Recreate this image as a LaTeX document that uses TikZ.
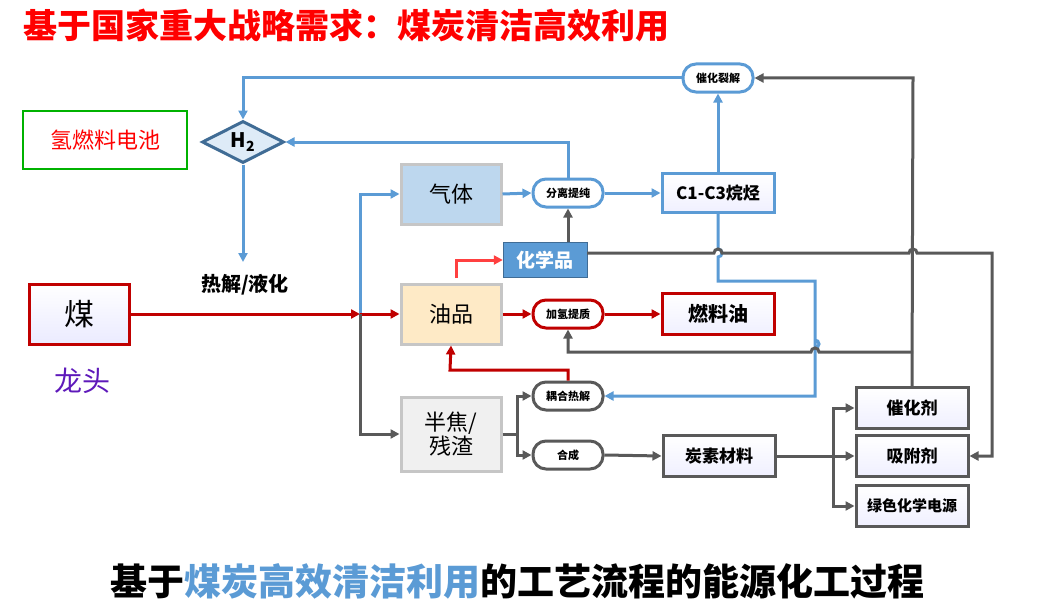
\documentclass[tikz,border=0pt]{standalone}
\usepackage{fontspec}
\setmainfont{Noto Sans CJK SC}
\usetikzlibrary{arrows.meta,positioning,shapes.geometric}
\definecolor{lblue}{HTML}{5B9BD5}
\definecolor{dgray}{HTML}{595959}
\definecolor{dred}{HTML}{C00000}
\begin{document}
\begin{tikzpicture}[x=1pt,y=-1pt,>={Triangle[length=9pt,width=9pt]},
  box/.style={draw,line width=3pt,minimum width=112pt,minimum height=41pt,inner sep=0pt,
    top color=white,bottom color=blue!6,font=\fontsize{17}{17}\selectfont\bfseries},
  src/.style={draw=gray!45,line width=3pt,minimum width=100pt,minimum height=60pt,inner sep=0pt,
    font=\fontsize{22}{24}\selectfont},
  proc/.style={rounded corners=13pt,line width=3pt,fill=white,minimum width=70pt,
    minimum height=28pt,inner sep=0pt,font=\fontsize{11}{11}\selectfont\bfseries},
  bl/.style={lblue,line width=3pt},
  gr/.style={dgray,line width=3pt},
  rd/.style={dred,line width=3pt}]
  \useasboundingbox (0,0) rectangle (1044,610);
  % titles
  \node[red,font=\fontsize{34}{34}\selectfont\bfseries,anchor=west] (title) at (20,25) {基于国家重大战略需求：煤炭清洁高效利用};
  \node[font=\fontsize{37}{37}\selectfont\bfseries] (foot) at (517,581) {基于{\color{lblue}煤炭高效清洁利用}的工艺流程的能源化工过程};
  % nodes
  \node[draw=green!70!black,line width=1.5pt,minimum width=164pt,minimum height=58pt,text=red,
    font=\fontsize{22}{22}\selectfont] (fc) at (105,140) {氢燃料电池};
  \node[diamond,draw=lblue!70!black,fill=lblue!20,line width=3pt,aspect=2,minimum width=82pt,
    minimum height=42pt,inner sep=0pt,font=\fontsize{20}{20}\selectfont\bfseries] (h2) at (243,142) {H$_\mathbf{2}$};
  \node[font=\fontsize{20}{20}\selectfont\bfseries] (pyro) at (245,285) {热解/液化};
  \node[draw=dred,line width=3pt,minimum width=100pt,minimum height=60pt,top color=white,
    bottom color=blue!8,font=\fontsize{30}{30}\selectfont] (coal) at (79,314) {煤};
  \node[text=blue!70!red!90,font=\fontsize{28}{28}\selectfont] (head) at (82,381) {龙头};
  \node[src,fill=lblue!40] (gas) at (451,194) {气体};
  \node[src,fill=yellow!25!orange!20] (oil) at (451,314) {油品};
  \node[src,fill=gray!12,minimum height=74pt,align=center] (coke) at (451,434) {半焦/\\残渣};
  \node[draw=lblue!70!black,fill=lblue,text=white,minimum width=84pt,minimum height=35pt,
    inner sep=0pt,font=\fontsize{19}{19}\selectfont\bfseries] (chem) at (545,260) {化学品};
  \node[proc,draw=lblue] (sep) at (568,193) {分离提纯};
  \node[proc,draw=dred] (hyd) at (568,314) {加氢提质};
  \node[proc,draw=dgray] (cop) at (568,396) {耦合热解};
  \node[proc,draw=dgray] (syn) at (568,455) {合成};
  \node[proc,draw=lblue] (crk) at (718,78) {催化裂解};
  \node[box,draw=lblue,minimum height=39pt] (alk) at (718,193) {C1-C3烷烃};
  \node[box,draw=dred,font=\fontsize{20}{20}\selectfont\bfseries] (fuel) at (718,314) {燃料油};
  \node[box,draw=dgray] (carb) at (719,456) {炭素材料};
  \node[box,draw=dgray] (cat) at (912,408) {催化剂};
  \node[box,draw=dgray] (ads) at (912,456) {吸附剂};
  \node[box,draw=dgray,font=\fontsize{15}{15}\selectfont\bfseries] (bat) at (912,506) {绿色化学电源};
  % blue connectors
  \draw[bl,->] (crk.west) -- (243,78) -- (h2.north);
  \draw[bl,->] (sep.north) -- (568,142) -- (h2.east);
  \draw[bl,->] (h2.south) -- (243,262);
  \draw[bl,->] (360,314) -- (360,194) -- (gas.west);
  \draw[bl,->] (gas.east) -- (sep.west);
  \draw[bl,->] (sep.east) -- (alk.west);
  \draw[bl,->] (alk.north) -- (crk.south);
  \draw[bl,->] (alk.south) -- (718,249) arc[start angle=90,end angle=-90,radius=4pt] -- (718,281)
    -- (815,281) -- (815,348) arc[start angle=-90,end angle=90,radius=4pt] -- (815,396) -- (cop.east);
  % red connectors
  \draw[rd,->] (coal.east) -- (360,314);
  \draw[rd,->] (360,314) -- (oil.west);
  \draw[rd,->] (oil.east) -- (hyd.west);
  \draw[rd,->] (hyd.east) -- (fuel.west);
  \draw[rd,->] (cop.north) -- (568,370) -- (450,370) -- (oil.south);
  \draw[red!75,line width=3pt,->] (456,278) -- (456,260) -- (chem.west);
  % gray connectors
  \draw[gr,->] (360,314) -- (360,434) -- (coke.west);
  \draw[gr,->] (chem.north -| sep) -- (sep.south);
  \draw[gr,->] ([yshift=7pt]chem.east) -- (714,253) arc[start angle=180,end angle=0,radius=4pt]
    -- (909,253) arc[start angle=180,end angle=0,radius=4pt] -- (992,253) -- (992,456) -- (ads.east);
  \draw[gr,->] (cat.north) -- (913,78) -- (crk.east);
  \draw[gr,->] (913,352) -- (819,352) arc[start angle=0,end angle=180,radius=4pt] -- (568,352) -- (hyd.south);
  \draw[gr] (coke.east) -- (517,434);
  \draw[gr,->] (517,434) -- (517,396) -- (cop.west);
  \draw[gr,->] (517,434) -- (517,455) -- (syn.west);
  \draw[gr,->] (syn.east) -- (carb.west);
  \draw[gr,->] (carb.east) -- (ads.west);
  \draw[gr,->] (833,456) -- (833,408) -- (cat.west);
  \draw[gr,->] (833,456) -- (833,506) -- (bat.west);
\end{tikzpicture}
\end{document}
